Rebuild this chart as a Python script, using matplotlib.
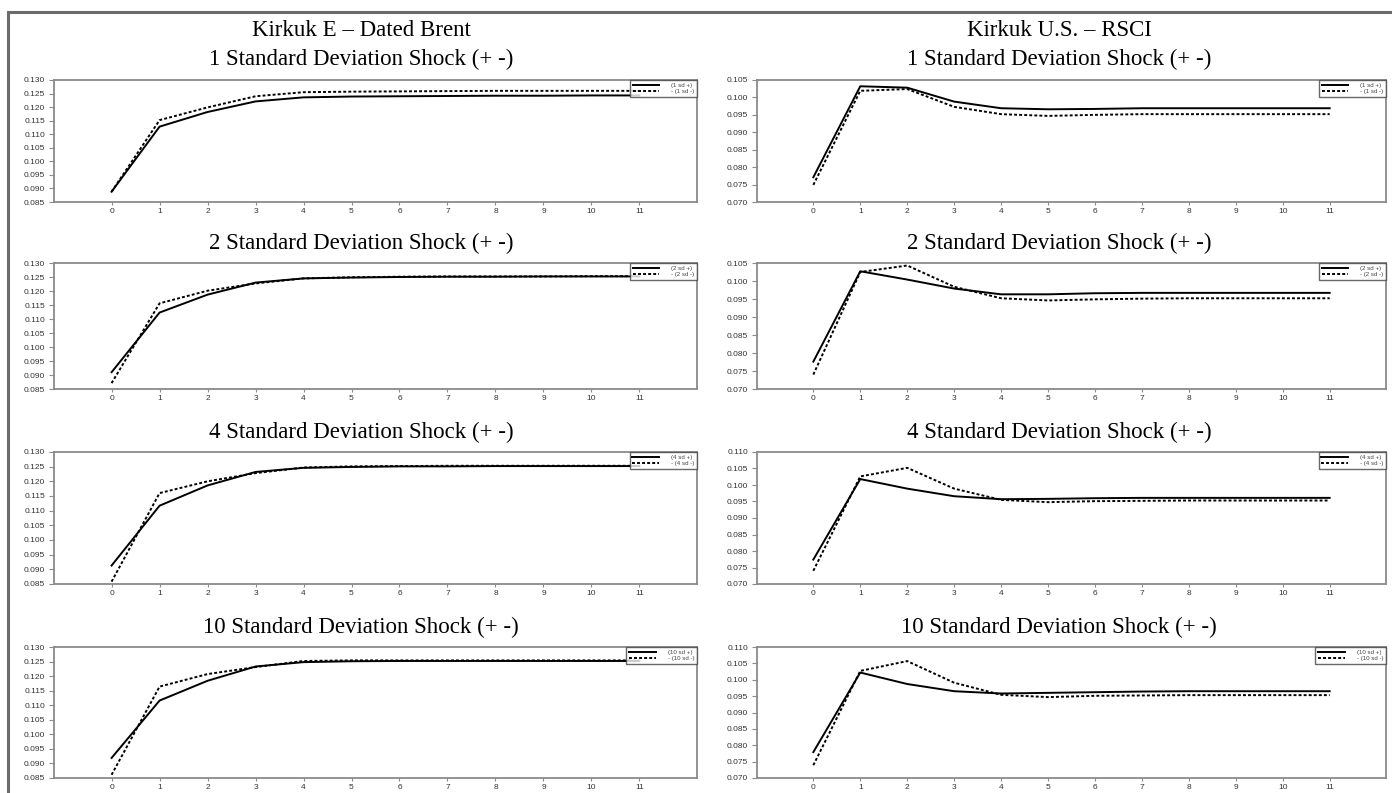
import matplotlib
matplotlib.use("Agg")
import matplotlib.pyplot as plt
from matplotlib.patches import Rectangle

# ---------------- data ----------------
periods = [0, 1, 2, 3, 4, 5, 6, 7, 8, 9, 10, 11]
shock_sizes = [1, 2, 4, 10]

col_titles = ["Kirkuk E \u2013 Dated Brent", "Kirkuk U.S. \u2013 RSCI"]

# Kirkuk E - Dated Brent (left column)
brent_1_pos = [0.0888, 0.1128, 0.1182, 0.1221, 0.1236, 0.1239, 0.1240, 0.1241, 0.1242, 0.1242, 0.1243, 0.1243]
brent_1_neg = [0.0888, 0.1152, 0.1199, 0.1240, 0.1255, 0.1257, 0.1258, 0.1259, 0.1260, 0.1260, 0.1260, 0.1260]
brent_2_pos = [0.0910, 0.1123, 0.1187, 0.1230, 0.1245, 0.1248, 0.1250, 0.1251, 0.1251, 0.1252, 0.1252, 0.1252]
brent_2_neg = [0.0871, 0.1156, 0.1201, 0.1227, 0.1245, 0.1249, 0.1251, 0.1252, 0.1252, 0.1252, 0.1253, 0.1253]
brent_4_pos = [0.0913, 0.1117, 0.1186, 0.1232, 0.1246, 0.1249, 0.1251, 0.1251, 0.1252, 0.1252, 0.1252, 0.1252]
brent_4_neg = [0.0858, 0.1160, 0.1200, 0.1228, 0.1247, 0.1251, 0.1252, 0.1253, 0.1253, 0.1253, 0.1253, 0.1253]
brent_10_pos = [0.0919, 0.1116, 0.1184, 0.1233, 0.1248, 0.1251, 0.1252, 0.1252, 0.1252, 0.1252, 0.1252, 0.1252]
brent_10_neg = [0.0861, 0.1164, 0.1207, 0.1231, 0.1252, 0.1254, 0.1254, 0.1254, 0.1254, 0.1254, 0.1254, 0.1254]

# Kirkuk U.S. - RSCI (right column)
rsci_1_pos = [0.0771, 0.1032, 0.1028, 0.0988, 0.0969, 0.0966, 0.0967, 0.0969, 0.0969, 0.0969, 0.0969, 0.0969]
rsci_1_neg = [0.0749, 0.1019, 0.1024, 0.0973, 0.0952, 0.0947, 0.0950, 0.0952, 0.0952, 0.0952, 0.0952, 0.0952]
rsci_2_pos = [0.0776, 0.1027, 0.1004, 0.0979, 0.0963, 0.0963, 0.0966, 0.0967, 0.0967, 0.0967, 0.0967, 0.0967]
rsci_2_neg = [0.0740, 0.1025, 0.1043, 0.0984, 0.0952, 0.0946, 0.0949, 0.0951, 0.0952, 0.0952, 0.0952, 0.0952]
rsci_4_pos = [0.0774, 0.1018, 0.0989, 0.0966, 0.0957, 0.0958, 0.0960, 0.0961, 0.0961, 0.0961, 0.0961, 0.0961]
rsci_4_neg = [0.0740, 0.1026, 0.1052, 0.0989, 0.0955, 0.0948, 0.0951, 0.0952, 0.0953, 0.0953, 0.0953, 0.0953]
rsci_10_pos = [0.0779, 0.1022, 0.0987, 0.0965, 0.0958, 0.0960, 0.0962, 0.0964, 0.0965, 0.0965, 0.0965, 0.0965]
rsci_10_neg = [0.0739, 0.1027, 0.1057, 0.0991, 0.0954, 0.0947, 0.0951, 0.0952, 0.0953, 0.0953, 0.0953, 0.0953]

brent_pos = [brent_1_pos, brent_2_pos, brent_4_pos, brent_10_pos]
brent_neg = [brent_1_neg, brent_2_neg, brent_4_neg, brent_10_neg]
rsci_pos = [rsci_1_pos, rsci_2_pos, rsci_4_pos, rsci_10_pos]
rsci_neg = [rsci_1_neg, rsci_2_neg, rsci_4_neg, rsci_10_neg]

brent_yticks = [0.085, 0.090, 0.095, 0.100, 0.105, 0.110, 0.115, 0.120, 0.125, 0.130]
rsci_yticks_small = [0.070, 0.075, 0.080, 0.085, 0.090, 0.095, 0.100, 0.105]
rsci_yticks_large = [0.070, 0.075, 0.080, 0.085, 0.090, 0.095, 0.100, 0.105, 0.110]
rsci_yticks = [rsci_yticks_small, rsci_yticks_small, rsci_yticks_large, rsci_yticks_large]

# ---------------- layout ----------------
W, H = 1392, 793
fig = plt.figure(figsize=(W / 100, H / 100), dpi=100)
fig.patch.set_facecolor("white")

def rect(x0, y0, x1, y1):
    return [x0 / W, 1 - y1 / H, (x1 - x0) / W, (y1 - y0) / H]

rows_px = [(80, 202), (263, 389), (452, 584), (647, 778)]
cols_px = [(54, 697), (757, 1386)]
col_centers = [361, 1059]

# outer frame (left and top edges visible)
fig.add_artist(Rectangle((8 / W, -0.05), (1420 - 8) / W, 1.05 - 12 / H,
                         transform=fig.transFigure, fill=False,
                         edgecolor="#6a6a6a", linewidth=2.2, zorder=0))

tick_font = dict(family="Liberation Sans", size=6, color="#333333")
serif = "Liberation Serif"
spine_col = "#8a8a8a"

def style_axes(ax, yticks):
    for s in ax.spines.values():
        s.set_color(spine_col)
        s.set_linewidth(1.3)
    ax.set_xlim(-1.2, 12.2)
    ax.set_ylim(yticks[0], yticks[-1])
    ax.set_yticks(yticks)
    ax.set_yticklabels([f"{v:.3f}" for v in yticks], **tick_font)
    ax.set_xticks(periods)
    ax.set_xticklabels([str(p) for p in periods], **tick_font)
    ax.tick_params(axis="y", length=3.5, width=0.8, color=spine_col, pad=3)
    ax.tick_params(axis="x", length=2.5, width=0.8, color=spine_col, pad=1.5)

for r, (top, bot) in enumerate(rows_px):
    for c, (x0, x1) in enumerate(cols_px):
        ax = fig.add_axes(rect(x0, top, x1, bot))
        if c == 0:
            pos, neg, yt = brent_pos[r], brent_neg[r], brent_yticks
        else:
            pos, neg, yt = rsci_pos[r], rsci_neg[r], rsci_yticks[r]
        k = shock_sizes[r]
        ax.plot(periods, pos, color="black", linewidth=1.4,
                label=f"({k} sd +)")
        ax.plot(periods, neg, color="black", linewidth=1.4,
                linestyle=(0, (1.5, 1.1)), label=f"- ({k} sd -)")
        style_axes(ax, yt)
        leg = ax.legend(loc="upper right", borderaxespad=0,
                        prop=dict(family="Liberation Sans", size=4.4),
                        frameon=True, fancybox=False, handlelength=4.4,
                        handletextpad=1.9, borderpad=0.45, labelspacing=0.15)
        leg.get_frame().set_edgecolor("#444444")
        leg.get_frame().set_linewidth(1.0)
        for t in leg.get_texts():
            t.set_color("#444444")
        # subtitle
        sub_y = 59 if r == 0 else top - 20
        fig.text(col_centers[c] / W, 1 - sub_y / H,
                 f"{k} Standard Deviation Shock (+ -)",
                 ha="center", va="center", family=serif, fontsize=16.5,
                 color="black")
        if r == 0:
            fig.text(col_centers[c] / W, 1 - 31 / H, col_titles[c],
                     ha="center", va="center", family=serif, fontsize=16.5,
                     color="black")

fig.savefig("out.png", dpi=100, facecolor="white")
